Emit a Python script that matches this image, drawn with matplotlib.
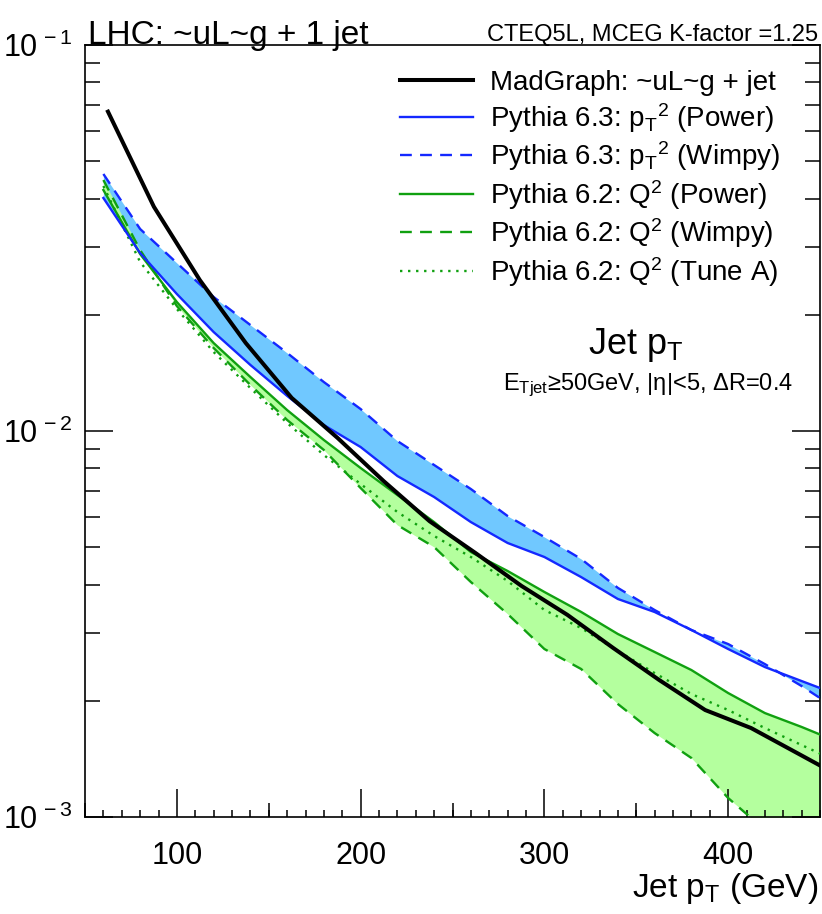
import matplotlib
matplotlib.use("Agg")
import matplotlib.pyplot as plt
import numpy as np
from matplotlib.ticker import NullFormatter, LogLocator

plt.rcParams['font.family'] = ['Liberation Sans', 'DejaVu Sans']
plt.rcParams['mathtext.fontset'] = 'custom'
plt.rcParams['mathtext.rm'] = 'Liberation Sans'
plt.rcParams['mathtext.it'] = 'Liberation Sans'
plt.rcParams['mathtext.default'] = 'regular'

# ---------------- data ----------------
pt_mg = [62.5, 87.5, 112.5, 137.5, 162.5, 187.5, 212.5, 237.5, 262.5, 287.5,
         312.5, 337.5, 362.5, 387.5, 412.5, 437.5, 462.5]
madgraph = [0.0672, 0.0381, 0.0246, 0.0169, 0.01218, 0.00959, 0.00742, 0.00584,
            0.00483, 0.00397, 0.00334, 0.00274, 0.002264, 0.001893, 0.00170,
            0.001465, 0.001262]

pt_py = [60, 80, 100, 120, 140, 160, 180, 200, 220, 240, 260, 280, 300, 320,
         340, 360, 380, 400, 420, 440, 460]
py63_power = [0.04015, 0.02891, 0.02264, 0.01805, 0.01483, 0.01233, 0.01036,
              0.009088, 0.007645, 0.006745, 0.005808, 0.005127, 0.004716,
              0.004184, 0.003671, 0.003397, 0.003051, 0.002724, 0.002446,
              0.002250, 0.002071]
py63_wimpy = [0.04633, 0.03337, 0.02724, 0.02224, 0.01882, 0.01593, 0.01339,
              0.01140, 0.009421, 0.008164, 0.007074, 0.006022, 0.005313,
              0.004661, 0.003922, 0.003437, 0.003051, 0.002806, 0.002490,
              0.002184, 0.001893]
py62_power = [0.04211, 0.02874, 0.02158, 0.01690, 0.01380, 0.01133, 0.009477,
              0.008019, 0.006826, 0.005808, 0.004858, 0.004338, 0.003828,
              0.003398, 0.002979, 0.002676, 0.002403, 0.002095, 0.001859,
              0.001711, 0.001564]
py62_wimpy = [0.04469, 0.02943, 0.02107, 0.01641, 0.01316, 0.01068, 0.008928,
              0.007117, 0.005706, 0.005005, 0.004062, 0.003357, 0.002724,
              0.002418, 0.001962, 0.001650, 0.001422, 0.001120, 0.000926,
              0.000774, 0.000647]
py62_tunea = [0.04312, 0.02741, 0.02071, 0.01602, 0.01292, 0.01049, 0.008665,
              0.007290, 0.006168, 0.005346, 0.004716, 0.004087, 0.003438,
              0.003087, 0.002692, 0.002360, 0.002083, 0.001893, 0.001700,
              0.001536, 0.001388]

labels = ["MadGraph: ~uL~g + jet",
          "Pythia 6.3: p$_T{}^2$ (Power)",
          "Pythia 6.3: p$_T{}^2$ (Wimpy)",
          "Pythia 6.2: Q$^2$ (Power)",
          "Pythia 6.2: Q$^2$ (Wimpy)",
          "Pythia 6.2: Q$^2$ (Tune A)"]

xticks = [100, 200, 300, 400]
yticks = [1e-3, 1e-2, 1e-1]
yticklabels = [r"10$^{\,-3}$", r"10$^{\,-2}$", r"10$^{\,-1}$"]

# ---------------- figure ----------------
W, H = 822, 914
fig = plt.figure(figsize=(W / 100, H / 100), dpi=100)
ax = fig.add_axes([85 / W, 97 / H, 735 / W, 772 / H])
ax.set_yscale('log')
ax.set_xlim(50, 450)
ax.set_ylim(1e-3, 1e-1)

blue = '#1428ff'
lblue = '#70c8ff'
green = '#10a010'
lgreen = '#b4ff9e'

ax.fill_between(pt_py, py63_power, py63_wimpy, color=lblue, lw=0, zorder=1)
ax.fill_between(pt_py, py62_power, py62_wimpy, color=lgreen, lw=0, zorder=1)

lw = 1.7
h_mg, = ax.plot(pt_mg, madgraph, color='black', lw=2.9, zorder=5)
h1, = ax.plot(pt_py, py63_power, color=blue, lw=lw, zorder=4)
h2, = ax.plot(pt_py, py63_wimpy, color=blue, lw=lw, ls=(0, (5, 3.5)), zorder=4)
h3, = ax.plot(pt_py, py62_power, color=green, lw=lw, zorder=3)
h4, = ax.plot(pt_py, py62_wimpy, color=green, lw=lw, ls=(0, (5, 3.5)), zorder=3)
h5, = ax.plot(pt_py, py62_tunea, color=green, lw=lw, ls=(0, (1, 2.4)), zorder=3)

# ticks
ax.set_xticks(xticks)
ax.set_xticklabels([str(v) for v in xticks])
ax.set_xticks(np.arange(50, 451, 10), minor=True)
ax.tick_params(axis='x', which='major', direction='in', length=20, width=1.1,
               top=False, bottom=True, labelsize=22, pad=17)
ax.tick_params(axis='x', which='minor', direction='in', length=5, width=1.1,
               top=False, bottom=True)
sec = ax.secondary_xaxis('bottom')
sec.set_xticks([50, 150, 250, 350, 450])
sec.tick_params(direction='in', length=10, width=1.1, labelbottom=False)
sec.spines['bottom'].set_visible(False)

ax.set_yticks(yticks)
ax.set_yticklabels(yticklabels)
ax.yaxis.set_minor_locator(LogLocator(base=10, subs=np.arange(2, 10)))
ax.yaxis.set_minor_formatter(NullFormatter())
ax.tick_params(axis='y', which='major', direction='in', length=20, width=1.1,
               left=True, right=True, labelsize=22, pad=9)
ax.tick_params(axis='y', which='minor', direction='in', length=11, width=1.1,
               left=True, right=True)
for s in ax.spines.values():
    s.set_linewidth(1.2)

# legend
leg = ax.legend([h_mg, h1, h2, h3, h4, h5], labels, loc='upper left',
                bbox_to_anchor=(400 / W, 1 - 70 / H), bbox_transform=fig.transFigure,
                frameon=False, fontsize=20, handlelength=2.63, handletextpad=0.6,
                labelspacing=0.17, borderpad=0, borderaxespad=0)

# texts
fig.text(88 / W, 1 - 44 / H, "LHC: ~uL~g + 1 jet", fontsize=24, va='baseline', ha='left')
fig.text(818 / W, 1 - 41 / H, "CTEQ5L, MCEG K-factor =1.25", fontsize=17,
         va='baseline', ha='right')
fig.text(636 / W, 1 - 354 / H, "Jet p$_T$", fontsize=26, va='baseline', ha='center')
fig.text(793 / W, 1 - 390 / H, "E$_{Tjet}$≥50GeV, |η|<5, ΔR=0.4", fontsize=17,
         va='baseline', ha='right')
fig.text(818 / W, 1 - 897 / H, "Jet p$_T$ (GeV)", fontsize=24, va='baseline', ha='right')

fig.savefig("out.png", dpi=100)
